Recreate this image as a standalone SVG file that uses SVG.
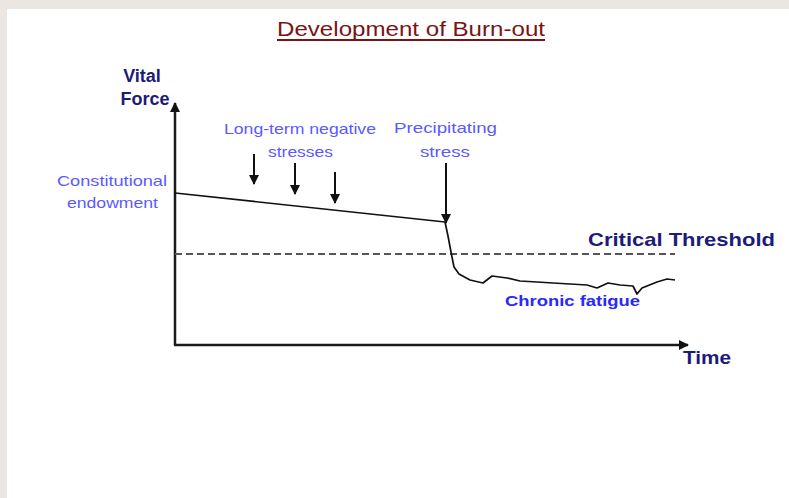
<svg xmlns="http://www.w3.org/2000/svg" width="789" height="498" viewBox="0 0 789 498">
<defs>
<style>
.navy{fill:#1c1c78;font-family:"Liberation Sans",Arial,sans-serif;font-weight:bold;}
.lb{fill:#5a5aff;font-family:"Liberation Sans",Arial,sans-serif;font-size:15px;}
.ax{stroke:#1a1a1a;stroke-width:2.5;fill:none;}
.arr{stroke:#111;stroke-width:2;fill:none;}
</style>
<marker id="ah" viewBox="0 0 10 10" refX="9" refY="5" markerWidth="11" markerHeight="10" markerUnits="userSpaceOnUse" orient="auto">
<path d="M0,0 L10,5 L0,10 Z" fill="#111"/>
</marker>
<marker id="ahs" viewBox="0 0 10 10" refX="9" refY="5" markerWidth="11" markerHeight="10" markerUnits="userSpaceOnUse" orient="auto">
<path d="M0,0 L10,5 L0,10 Z" fill="#111"/>
</marker>
</defs>
<rect x="0" y="0" width="789" height="498" fill="#ebe6e2"/>
<rect x="7" y="9" width="782" height="489" fill="#ffffff"/>

<g id="title">
<text x="277" y="36" textLength="268" lengthAdjust="spacingAndGlyphs" font-family="Liberation Sans, Arial, sans-serif" font-size="20" fill="#7a1414">Development of Burn-out</text>
<line x1="277" y1="40" x2="545" y2="40" stroke="#7a1414" stroke-width="2"/>
</g>

<g id="axes">
<line class="ax" x1="175" y1="345" x2="175" y2="103" marker-end="url(#ah)"/>
<line class="ax" x1="174" y1="345" x2="688" y2="345" marker-end="url(#ah)"/>
</g>

<g id="threshold">
<line x1="175" y1="254" x2="675" y2="254" stroke="#555" stroke-width="2" stroke-dasharray="7,4"/>
</g>

<g id="curve">
<path d="M175,193 L445,222 L448,236 L451,252 L454,267 L459,274 L470,280 L483,283 L492,276 L507,278 L520,281 L537,282 L553,283 L570,284 L587,285 L597,288 L608,283 L620,285 L633,286 L637,294 L642,288 L657,282 L667,279 L675,280" fill="none" stroke="#111" stroke-width="1.7" stroke-linejoin="round"/>
</g>

<g id="connectors">
<line class="arr" x1="254" y1="154" x2="254" y2="184" marker-end="url(#ahs)"/>
<line class="arr" x1="295" y1="163" x2="295" y2="194" marker-end="url(#ahs)"/>
<line class="arr" x1="335" y1="172" x2="335" y2="203" marker-end="url(#ahs)"/>
<line class="arr" x1="446" y1="163" x2="446" y2="223" marker-end="url(#ahs)"/>
</g>

<g id="label-vital">
<text class="navy" x="142" y="82" font-size="18" text-anchor="middle">Vital</text>
<text class="navy" x="145" y="105" font-size="18" text-anchor="middle">Force</text>
</g>

<g id="label-constitutional">
<text class="lb" x="57" y="186" textLength="110" lengthAdjust="spacingAndGlyphs">Constitutional</text>
<text class="lb" x="67" y="208" textLength="91" lengthAdjust="spacingAndGlyphs">endowment</text>
</g>

<g id="label-longterm">
<text class="lb" x="224" y="134" textLength="152" lengthAdjust="spacingAndGlyphs">Long-term negative</text>
<text class="lb" x="268" y="157" textLength="65" lengthAdjust="spacingAndGlyphs">stresses</text>
</g>

<g id="label-precipitating">
<text class="lb" x="394" y="133" textLength="103" lengthAdjust="spacingAndGlyphs">Precipitating</text>
<text class="lb" x="420" y="157" textLength="50" lengthAdjust="spacingAndGlyphs">stress</text>
</g>

<g id="label-critical">
<text class="navy" x="588" y="246" font-size="19" textLength="187" lengthAdjust="spacingAndGlyphs">Critical Threshold</text>
</g>

<g id="label-chronic">
<text x="505" y="306" font-family="Liberation Sans, Arial, sans-serif" font-weight="bold" font-size="15" fill="#2828ff" textLength="135" lengthAdjust="spacingAndGlyphs">Chronic fatigue</text>
</g>

<g id="label-time">
<text class="navy" x="683" y="364" font-size="19" textLength="48" lengthAdjust="spacingAndGlyphs">Time</text>
</g>
</svg>
